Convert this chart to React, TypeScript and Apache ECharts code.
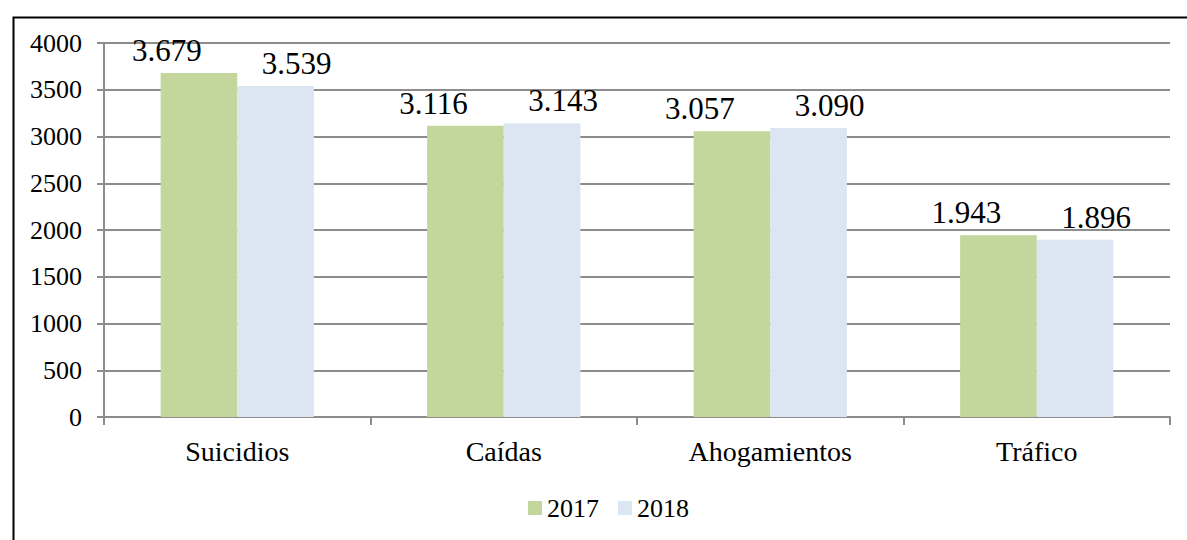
import React, { useEffect, useRef, useState } from "react";
import * as echarts from "echarts";

const categories = ["Suicidios", "Caídas", "Ahogamientos", "Tráfico"];
const values2017 = [3679, 3116, 3057, 1943];
const values2018 = [3539, 3143, 3090, 1896];
const seriesNames = ["2017", "2018"];

const FONT = '"Liberation Serif", "Times New Roman", serif';

const fmt = (v: number) => {
  const s = String(Math.round(v));
  return s.replace(/\B(?=(\d{3})+(?!\d))/g, ".");
};

export default function App() {
  const ref = useRef<HTMLDivElement>(null);
  const [, setTick] = useState("");
  useEffect(() => {
    document.body.style.margin = "0";
    if (!ref.current) return;
    const chart = echarts.init(ref.current, null, { renderer: "svg" });
    const labelBase = {
      show: true,
      position: "top" as const,
      distance: 7,
      fontFamily: FONT,
      fontSize: 31,
      color: "#000",
      formatter: (p: any) => fmt(p.value),
    };
    const option = {
      animation: false,
      backgroundColor: "#fff",
      textStyle: { fontFamily: FONT, color: "#000" },
      grid: { left: 104, right: 17, top: 43, bottom: 123, containLabel: false },
      legend: {
        data: seriesNames,
        bottom: 14,
        left: 523,
        itemWidth: 14,
        itemHeight: 14,
        itemGap: 19,
        icon: "rect",
        textStyle: { fontFamily: FONT, fontSize: 26, color: "#000" },
      },
      xAxis: {
        type: "category",
        data: categories,
        axisLine: { show: true, lineStyle: { color: "#8c8c8c", width: 2 } },
        axisTick: { show: true, length: 8, alignWithLabel: false, lineStyle: { color: "#8c8c8c", width: 2 } },
        axisLabel: { fontFamily: FONT, fontSize: 28, color: "#000", margin: 20 },
      },
      yAxis: {
        type: "value",
        min: 0,
        max: 4000,
        interval: 500,
        axisLine: { show: true, lineStyle: { color: "#8c8c8c", width: 2 } },
        axisTick: { show: true, length: 7, lineStyle: { color: "#8c8c8c", width: 2 } },
        splitLine: { show: true, lineStyle: { color: "#8c8c8c", width: 2 } },
        axisLabel: {
          fontFamily: FONT,
          fontSize: 26,
          color: "#000",
          margin: 22,
          formatter: (v: number) => String(v),
        },
      },
      series: [
        {
          name: seriesNames[0],
          type: "bar",
          data: values2017,
          barGap: "0%",
          barCategoryGap: "42.5%",
          itemStyle: { color: "#c3d69b" },
          label: { ...labelBase, offset: [-32, 0] },
        },
        {
          name: seriesNames[1],
          type: "bar",
          data: values2018,
          barGap: "0%",
          barCategoryGap: "42.5%",
          itemStyle: { color: "#dce6f2" },
          label: { ...labelBase, offset: [21, 0] },
        },
      ],
      graphic: [
        {
          type: "rect",
          left: 11,
          top: 15,
          shape: { x: 0, y: 0, width: 1200, height: 600 },
          style: { fill: "none", stroke: "#000", lineWidth: 2 },
          silent: true,
          z: 100,
        },
      ],
    };
    chart.setOption(option);
    // Force a style read of the rendered texts, then a React update (this made the labels serif before).
    const texts = Array.from(ref.current.querySelectorAll("text"));
    const snapshot = texts.map((t) => t.outerHTML).join("").length.toString();
    setTick(snapshot);
    let disposed = false;
    const redraw = () => {
      if (disposed) return;
      chart.setOption(option, true);
    };
    const raf = requestAnimationFrame(redraw);
    if ((document as any).fonts && (document as any).fonts.load) {
      (document as any).fonts.load('31px "Liberation Serif"').then(redraw).catch(() => {});
    }
    return () => {
      disposed = true;
      cancelAnimationFrame(raf);
      chart.dispose();
    };
  }, []);
  return (
    <div style={{ position: "relative" }}>
      <div ref={ref} style={{ width: 1187, height: 540 }} />
    </div>
  );
}
